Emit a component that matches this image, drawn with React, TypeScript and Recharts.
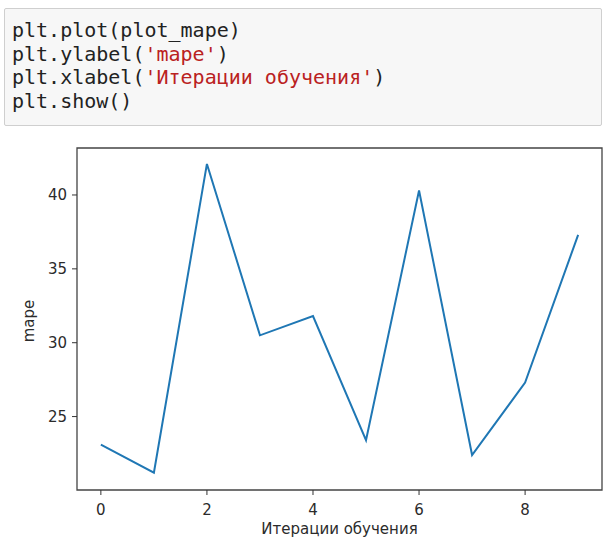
import React from 'react';
import { LineChart, Line, XAxis, YAxis, ReferenceArea } from 'recharts';

const iterations = [0, 1, 2, 3, 4, 5, 6, 7, 8, 9];
const mapeValues = [23.1, 21.2, 42.1, 30.5, 31.8, 23.4, 40.3, 22.4, 27.3, 37.3];
const xTicks = [0, 2, 4, 6, 8];
const yTicks = [25, 30, 35, 40];

const X_DOMAIN: [number, number] = [-0.45, 9.45];
const Y_DOMAIN: [number, number] = [20.03, 43.18];

const codeLines = [
  [{ t: 'plt.plot(plot_mape)' }],
  [{ t: 'plt.ylabel(' }, { t: "'mape'", s: true }, { t: ')' }],
  [{ t: 'plt.xlabel(' }, { t: "'Итерации обучения'", s: true }, { t: ')' }],
  [{ t: 'plt.show()' }],
];

const tickFont = { fontFamily: 'DejaVu Sans', fontSize: 15, fill: '#2b2b2b' };

const YLabel = (props: any) => {
  const vb = props.viewBox || { y: 148, height: 342 };
  const cy = vb.y + vb.height / 2 + 2;
  const cx = 34;
  return (
    <text
      x={cx}
      y={cy}
      transform={`rotate(-90, ${cx}, ${cy})`}
      textAnchor="middle"
      fontFamily="DejaVu Sans"
      fontSize={15}
      fill="#2b2b2b"
    >
      mape
    </text>
  );
};

export default function App() {
  const data = iterations.map((x, i) => ({ x, mape: mapeValues[i] }));

  return (
    <div style={{ position: 'absolute', left: 0, top: 0, width: 604, height: 538, background: '#fff', overflow: 'hidden' }}>
      <div
        style={{
          position: 'absolute',
          left: 4,
          top: 8,
          width: 598,
          height: 118,
          boxSizing: 'border-box',
          background: '#f7f7f7',
          border: '1px solid #cfcfcf',
          borderRadius: 2,
          padding: '10px 0 0 7px',
          fontFamily: 'DejaVu Sans Mono',
          fontSize: 20,
          lineHeight: '23.5px',
          color: '#222',
          whiteSpace: 'pre',
        }}
      >
        {codeLines.map((line, i) => (
          <div key={i}>
            {line.map((p: any, j) => (
              <span key={j} style={p.s ? { color: '#ba2121' } : undefined}>{p.t}</span>
            ))}
          </div>
        ))}
      </div>

      <div style={{ position: 'absolute', left: 0, top: 0 }}>
        <LineChart width={604} height={538} data={data} margin={{ top: 148, right: 2, bottom: 0, left: 0 }}>
          <XAxis
            dataKey="x"
            type="number"
            domain={X_DOMAIN}
            ticks={xTicks}
            allowDataOverflow
            axisLine={false}
            tickLine={{ stroke: '#333' }}
            tickSize={5}
            tickMargin={9}
            height={48}
            tick={tickFont}
            label={{
              value: 'Итерации обучения',
              position: 'insideBottom',
              offset: 4,
              style: { fontFamily: 'DejaVu Sans', fontSize: 15, fill: '#2b2b2b' },
            }}
          />
          <YAxis
            type="number"
            domain={Y_DOMAIN}
            ticks={yTicks}
            allowDataOverflow
            axisLine={false}
            tickLine={{ stroke: '#333' }}
            tickSize={5}
            tickMargin={5}
            width={77}
            tick={tickFont}
            label={<YLabel />}
          />
          <ReferenceArea
            x1={X_DOMAIN[0]}
            x2={X_DOMAIN[1]}
            y1={Y_DOMAIN[0]}
            y2={Y_DOMAIN[1]}
            fill="none"
            stroke="#444"
            strokeWidth={1.3}
          />
          <Line
            type="linear"
            dataKey="mape"
            stroke="#1f77b4"
            strokeWidth={2}
            dot={false}
            activeDot={false}
            isAnimationActive={false}
          />
        </LineChart>
      </div>
    </div>
  );
}
